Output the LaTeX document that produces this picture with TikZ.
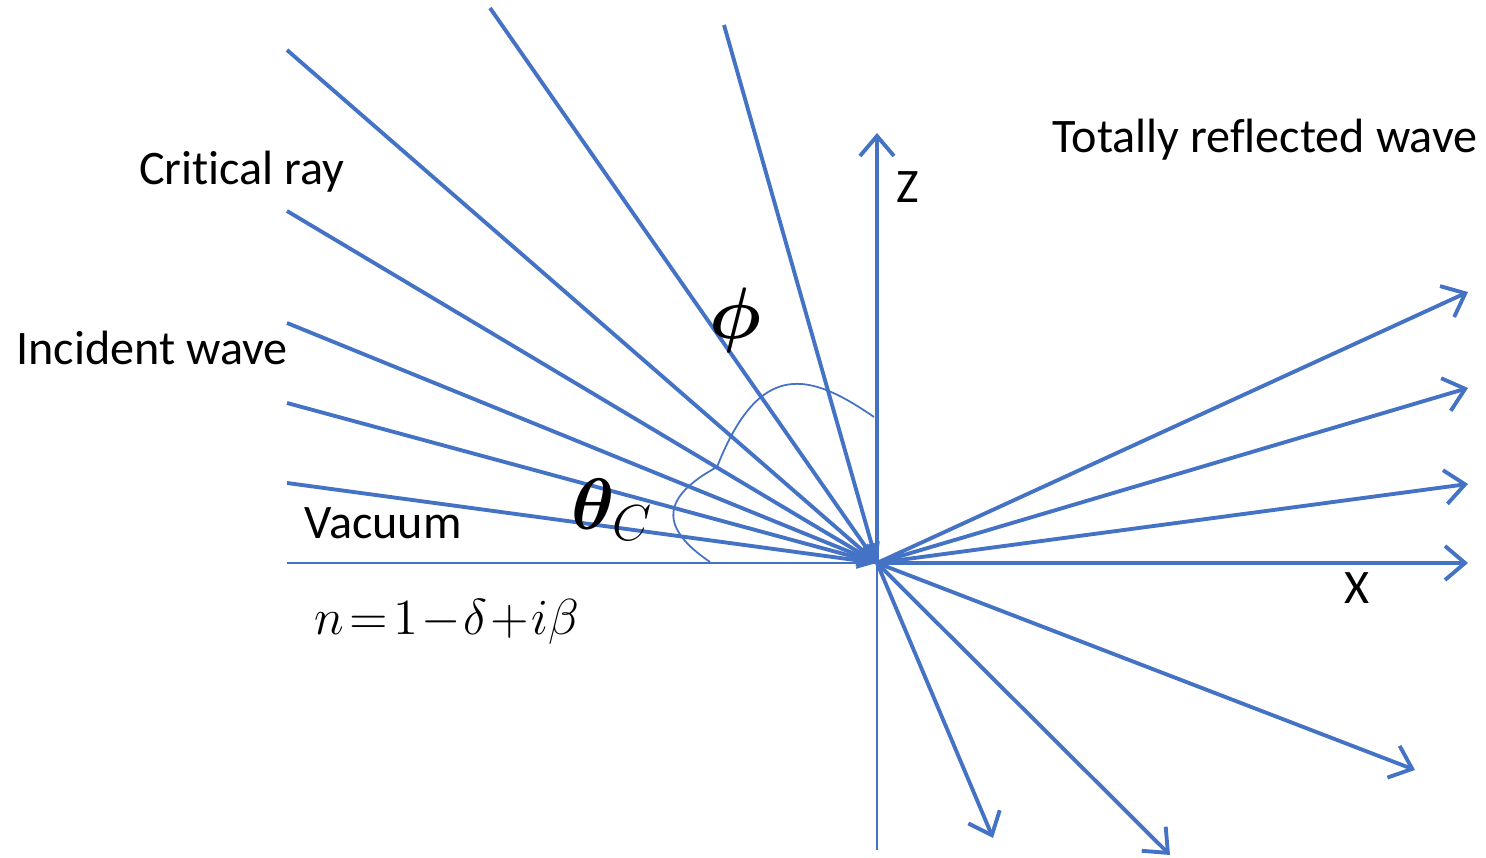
\documentclass[tikz,border=0pt]{standalone}
\usepackage{fontspec}
\usepackage{bm}
\setmainfont{Carlito}[Ligatures=NoCommon]
\usetikzlibrary{arrows.meta}
\definecolor{rayblue}{HTML}{4472C4}
\tikzset{
  ray/.style={draw=rayblue, line width=1.1pt},
  outray/.style={ray, -{Straight Barb[length=2mm, width=3.4mm, line width=1.1pt]}},
  inray/.style={ray, -{Triangle[length=2mm, width=1.6mm]}},
  thinline/.style={draw=rayblue, line width=0.5pt},
  lbl/.style={inner sep=0pt, font=\fontsize{13.7}{16}\selectfont}
}

\begin{document}
\begin{tikzpicture}
\useasboundingbox (0,0) rectangle (14.86,8.58);
\coordinate (o) at (8.77,2.95);
\coordinate (i1) at (2.87,3.75);
\coordinate (i2) at (2.87,4.55);
\coordinate (i3) at (2.87,5.35);
\coordinate (i4) at (2.87,6.47);
\coordinate (i5) at (2.87,8.08);
\coordinate (i6) at (4.90,8.50);
\coordinate (i7) at (7.24,8.33);
\coordinate (h) at (2.87,2.95);
\coordinate (ztop) at (8.77,7.25);
\coordinate (zbot) at (8.77,0.08);
\coordinate (xend) at (14.68,2.95);
\coordinate (r1) at (14.68,5.66);
\coordinate (r2) at (14.68,4.70);
\coordinate (r3) at (14.68,3.74);
\coordinate (r4) at (14.15,0.88);
\coordinate (r5) at (11.70,0.03);
\coordinate (r6) at (9.93,0.20);

\draw[thinline] (h) -- (o);
\draw[thinline] (o) -- (zbot);
\draw[outray] (o) -- (ztop);
\draw[outray] (o) -- (xend);
\foreach \s in {i1,i2,i3,i4,i5,i6,i7}
  \draw[inray] (\s) -- (o);
\foreach \e in {r1,r2,r3,r4,r5,r6}
  \draw[outray] (o) -- (\e);

\coordinate (arcphi) at (8.74,4.41);
\coordinate (arcmid) at (7.17,3.91);
\coordinate (arctheta) at (7.10,2.96);
\draw[thinline] (arcphi) .. controls (8.1,4.85) and (7.6,5.0) .. (arcmid);
\draw[thinline] (arcmid) .. controls (6.6,3.6) and (6.6,3.3) .. (arctheta);

\node[lbl] (critical) at (2.42,6.86) {Critical ray};
\node[lbl] (incident) at (1.52,5.10) {Incident wave};
\node[lbl] (vacuum) at (3.83,3.35) {Vacuum};
\node[lbl] (reflected) at (12.65,7.18) {Totally reflected wave};
\node[lbl] (zlabel) at (9.08,6.71) {Z};
\node[lbl] (xlabel) at (13.57,2.70) {X};
\node[inner sep=0pt, font=\fontsize{20}{22}\selectfont] (phi) at (7.35,5.38) {$\bm{\phi}$};
\node[inner sep=0pt, font=\fontsize{22}{24}\selectfont] (thetac) at (6.12,3.48) {$\bm{\theta}_{C}$};
\node[inner sep=0pt, font=\fontsize{15}{18}\selectfont] (index) at (4.47,2.36) {$n\!=\!1\!-\!\delta\!+\!i\beta$};
\end{tikzpicture}
\end{document}
